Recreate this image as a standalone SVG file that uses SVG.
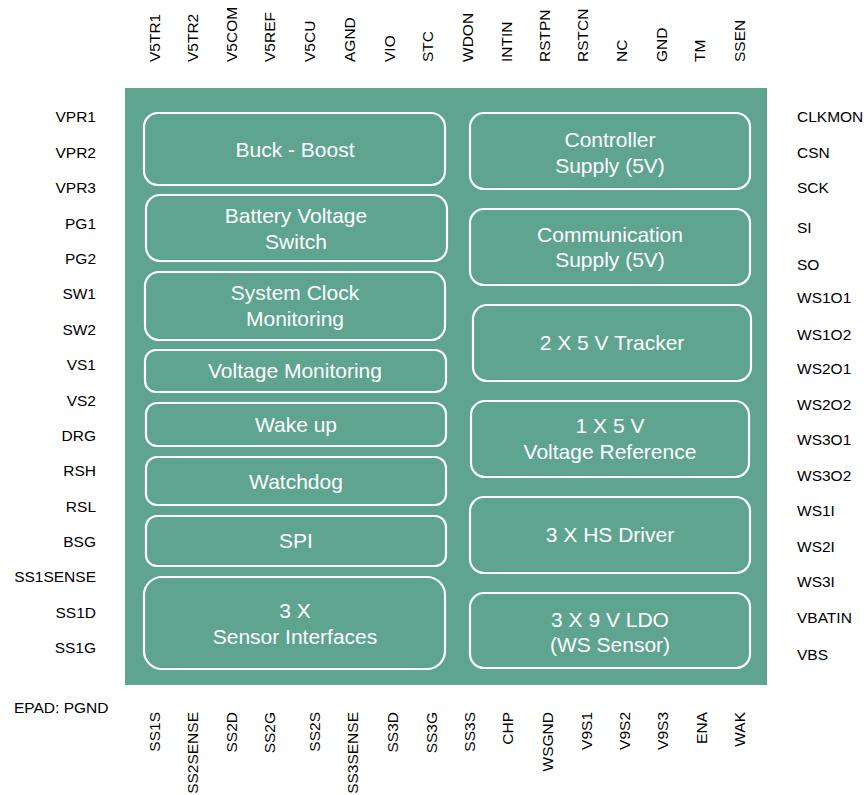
<svg xmlns="http://www.w3.org/2000/svg" width="866" height="795" viewBox="0 0 866 795">
<style>
.chip{fill:#5ea48f;}
.blk{fill:none;stroke:#ffffff;stroke-width:2.2;}
.bt{font-family:"Liberation Sans",Arial,sans-serif;font-size:21px;fill:#ffffff;text-anchor:middle;}
.pin{font-family:"Liberation Sans",Arial,sans-serif;font-size:15.5px;fill:#000000;}
.l{text-anchor:end;}
.r{text-anchor:start;}
.t{text-anchor:start;}
.b{text-anchor:end;}
</style>
<rect class="chip" x="125" y="88" width="642" height="597"/>
<g id="blocks-left">
<g id="buck-boost"><rect class="blk" x="144" y="113" width="301" height="72" rx="14"/><text class="bt" x="295" y="157">Buck - Boost</text></g>
<g id="battery-switch"><rect class="blk" x="146" y="195" width="301" height="66" rx="14"/><text class="bt" x="296" y="223">Battery Voltage</text><text class="bt" x="296" y="249">Switch</text></g>
<g id="clock-mon"><rect class="blk" x="145" y="272" width="300" height="68" rx="14"/><text class="bt" x="295" y="300">System Clock</text><text class="bt" x="295" y="326">Monitoring</text></g>
<g id="volt-mon"><rect class="blk" x="145" y="350" width="301" height="42" rx="11"/><text class="bt" x="295" y="378">Voltage Monitoring</text></g>
<g id="wake-up"><rect class="blk" x="146" y="403" width="300" height="43" rx="11"/><text class="bt" x="296" y="432">Wake up</text></g>
<g id="watchdog"><rect class="blk" x="146" y="457" width="300" height="48" rx="11"/><text class="bt" x="296" y="489">Watchdog</text></g>
<g id="spi"><rect class="blk" x="146" y="516" width="300" height="50" rx="11"/><text class="bt" x="296" y="548">SPI</text></g>
<g id="sensor-if"><rect class="blk" x="144" y="577" width="301" height="92" rx="18"/><text class="bt" x="295" y="618">3 X</text><text class="bt" x="295" y="644">Sensor Interfaces</text></g>
</g>
<g id="blocks-right">
<g id="ctrl-supply"><rect class="blk" x="470" y="113" width="280" height="76" rx="14"/><text class="bt" x="610" y="147">Controller</text><text class="bt" x="610" y="173">Supply (5V)</text></g>
<g id="comm-supply"><rect class="blk" x="470" y="209" width="280" height="76" rx="14"/><text class="bt" x="610" y="242">Communication</text><text class="bt" x="610" y="267">Supply (5V)</text></g>
<g id="tracker"><rect class="blk" x="473" y="305" width="278" height="76" rx="14"/><text class="bt" x="612" y="350">2 X 5 V Tracker</text></g>
<g id="vref"><rect class="blk" x="471" y="401" width="278" height="76" rx="14"/><text class="bt" x="610" y="433">1 X 5 V</text><text class="bt" x="610" y="459">Voltage Reference</text></g>
<g id="hs-driver"><rect class="blk" x="470" y="497" width="280" height="76" rx="14"/><text class="bt" x="610" y="542">3 X HS Driver</text></g>
<g id="ldo"><rect class="blk" x="470" y="593" width="280" height="75" rx="14"/><text class="bt" x="610" y="627">3 X 9 V LDO</text><text class="bt" x="610" y="652">(WS Sensor)</text></g>
</g>
<g id="pins-left">
<text class="pin l" x="96" y="122">VPR1</text>
<text class="pin l" x="96" y="158">VPR2</text>
<text class="pin l" x="96" y="193">VPR3</text>
<text class="pin l" x="96" y="229">PG1</text>
<text class="pin l" x="96" y="264">PG2</text>
<text class="pin l" x="96" y="299">SW1</text>
<text class="pin l" x="96" y="335">SW2</text>
<text class="pin l" x="96" y="370">VS1</text>
<text class="pin l" x="96" y="406">VS2</text>
<text class="pin l" x="96" y="441">DRG</text>
<text class="pin l" x="96" y="476">RSH</text>
<text class="pin l" x="96" y="512">RSL</text>
<text class="pin l" x="96" y="547">BSG</text>
<text class="pin l" x="96" y="582">SS1SENSE</text>
<text class="pin l" x="96" y="618">SS1D</text>
<text class="pin l" x="96" y="653">SS1G</text>
<text class="pin r" x="14" y="713">EPAD: PGND</text>
</g>
<g id="pins-right">
<text class="pin r" x="797" y="122">CLKMON</text>
<text class="pin r" x="797" y="158">CSN</text>
<text class="pin r" x="797" y="193">SCK</text>
<text class="pin r" x="797" y="233">SI</text>
<text class="pin r" x="797" y="270">SO</text>
<text class="pin r" x="797" y="303">WS1O1</text>
<text class="pin r" x="797" y="340">WS1O2</text>
<text class="pin r" x="797" y="374">WS2O1</text>
<text class="pin r" x="797" y="410">WS2O2</text>
<text class="pin r" x="797" y="445">WS3O1</text>
<text class="pin r" x="797" y="481">WS3O2</text>
<text class="pin r" x="797" y="516">WS1I</text>
<text class="pin r" x="797" y="552">WS2I</text>
<text class="pin r" x="797" y="587">WS3I</text>
<text class="pin r" x="797" y="623">VBATIN</text>
<text class="pin r" x="797" y="660">VBS</text>
</g>
<g id="pins-top">
<text class="pin t" transform="translate(160,62) rotate(-90)">V5TR1</text>
<text class="pin t" transform="translate(198,62) rotate(-90)">V5TR2</text>
<text class="pin t" transform="translate(237,62) rotate(-90)">V5COM</text>
<text class="pin t" transform="translate(275,62) rotate(-90)">V5REF</text>
<text class="pin t" transform="translate(315,62) rotate(-90)">V5CU</text>
<text class="pin t" transform="translate(355,62) rotate(-90)">AGND</text>
<text class="pin t" transform="translate(395,62) rotate(-90)">VIO</text>
<text class="pin t" transform="translate(433,62) rotate(-90)">STC</text>
<text class="pin t" transform="translate(473,62) rotate(-90)">WDON</text>
<text class="pin t" transform="translate(512,62) rotate(-90)">INTIN</text>
<text class="pin t" transform="translate(550,62) rotate(-90)">RSTPN</text>
<text class="pin t" transform="translate(588,62) rotate(-90)">RSTCN</text>
<text class="pin t" transform="translate(627,62) rotate(-90)">NC</text>
<text class="pin t" transform="translate(667,62) rotate(-90)">GND</text>
<text class="pin t" transform="translate(705,62) rotate(-90)">TM</text>
<text class="pin t" transform="translate(745,62) rotate(-90)">SSEN</text>
</g>
<g id="pins-bottom">
<text class="pin b" transform="translate(160,712) rotate(-90)">SS1S</text>
<text class="pin b" transform="translate(198,712) rotate(-90)">SS2SENSE</text>
<text class="pin b" transform="translate(237,712) rotate(-90)">SS2D</text>
<text class="pin b" transform="translate(275,712) rotate(-90)">SS2G</text>
<text class="pin b" transform="translate(320,712) rotate(-90)">SS2S</text>
<text class="pin b" transform="translate(358,712) rotate(-90)">SS3SENSE</text>
<text class="pin b" transform="translate(398,712) rotate(-90)">SS3D</text>
<text class="pin b" transform="translate(437,712) rotate(-90)">SS3G</text>
<text class="pin b" transform="translate(475,712) rotate(-90)">SS3S</text>
<text class="pin b" transform="translate(513,712) rotate(-90)">CHP</text>
<text class="pin b" transform="translate(553,712) rotate(-90)">WSGND</text>
<text class="pin b" transform="translate(592,712) rotate(-90)">V9S1</text>
<text class="pin b" transform="translate(630,712) rotate(-90)">V9S2</text>
<text class="pin b" transform="translate(668,712) rotate(-90)">V9S3</text>
<text class="pin b" transform="translate(707,712) rotate(-90)">ENA</text>
<text class="pin b" transform="translate(745,712) rotate(-90)">WAK</text>
</g>
<g id="connectors"></g>
</svg>
